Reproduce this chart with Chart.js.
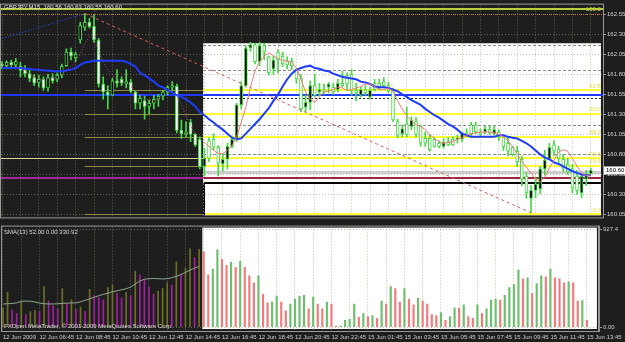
<!DOCTYPE html>
<html>
<head>
<meta charset="utf-8">
<script src="https://cdn.jsdelivr.net/npm/chart.js@4.4.1/dist/chart.umd.min.js"></script>
<style>
  html, body { margin: 0; padding: 0; background: #1e1e1e; }
  #wrap { position: relative; width: 625px; height: 342px; overflow: hidden; }
  #priceChart { position: absolute; left: 0; top: 0; }
  #volumeChart { position: absolute; left: 0; top: 222px; }
</style>
</head>
<body>
<div id="wrap">
  <canvas id="priceChart" width="625" height="222"></canvas>
  <canvas id="volumeChart" width="625" height="120"></canvas>
</div>
<script>
// GBPJPY M15, one bar every 15 minutes, bar 0 = 12 Jun 04:45
const opens = [
  161.93, 161.91, 161.95, 161.92, 161.90, 161.86, 161.81, 161.76, 161.70, 161.74,
  161.63, 161.76, 161.74, 161.79, 161.91, 162.08, 162.01, 162.23, 162.39, 162.45,
  162.40, 162.23, 161.68, 161.58, 161.54, 161.72, 161.74, 161.68, 161.70, 161.58,
  161.44, 161.47, 161.40, 161.44, 161.49, 161.53, 161.58, 161.64, 161.65, 161.10,
  161.06, 161.20, 161.05, 160.99, 160.65, 160.97, 160.99, 160.89, 160.68, 160.74,
  160.90, 160.99, 161.42, 161.66, 162.13, 162.17, 161.96, 162.16, 162.02, 161.87,
  162.08, 162.03, 161.97, 161.96, 161.85, 161.75, 161.39, 161.45, 161.66, 161.58,
  161.61, 161.64, 161.64, 161.61, 161.69, 161.79, 161.80, 161.60, 161.54, 161.61,
  161.52, 161.69, 161.69, 161.71, 161.66, 161.60, 161.21, 161.06, 161.18, 161.15,
  161.21, 161.15, 161.00, 161.00, 160.99, 160.94, 160.90, 160.96, 160.99, 160.99,
  160.99, 161.07, 161.17, 161.17, 161.08, 161.08, 161.11, 161.06, 161.08, 161.02,
  160.94, 160.89, 160.84, 160.74, 160.53, 160.25, 160.35, 160.37, 160.62, 160.75,
  160.92, 160.86, 160.74, 160.68, 160.62, 160.53, 160.32, 160.49, 160.56
];
const highs = [
  161.96, 161.97, 161.98, 162.00, 161.95, 161.91, 161.85, 161.80, 161.79, 161.77,
  161.80, 161.81, 161.82, 161.93, 162.12, 162.13, 162.08, 162.45, 162.56, 162.50,
  162.54, 162.25, 161.77, 161.66, 161.75, 161.86, 161.77, 161.86, 161.74, 161.59,
  161.54, 161.53, 161.48, 161.54, 161.55, 161.60, 161.66, 161.71, 161.68, 161.23,
  161.21, 161.24, 161.06, 161.02, 160.88, 161.01, 161.06, 160.91, 160.81, 160.94,
  161.02, 161.44, 161.71, 162.16, 162.20, 162.19, 162.20, 162.19, 162.03, 162.03,
  162.11, 162.08, 162.02, 162.00, 161.87, 161.80, 161.54, 161.72, 161.80, 161.69,
  161.68, 161.70, 161.69, 161.74, 161.84, 161.82, 161.86, 161.69, 161.64, 161.66,
  161.64, 161.74, 161.74, 161.76, 161.70, 161.63, 161.24, 161.17, 161.39, 161.27,
  161.26, 161.17, 161.08, 161.05, 161.01, 160.97, 161.00, 161.01, 161.02, 161.04,
  161.08, 161.12, 161.20, 161.20, 161.12, 161.15, 161.15, 161.15, 161.11, 161.04,
  161.02, 160.90, 160.90, 160.78, 160.57, 160.41, 160.51, 160.65, 160.85, 160.94,
  160.97, 160.90, 160.80, 160.75, 160.68, 160.60, 160.55, 160.60, 160.63
];
const lows = [
  161.87, 161.87, 161.87, 161.87, 161.77, 161.77, 161.71, 161.66, 161.64, 161.60,
  161.59, 161.69, 161.71, 161.76, 161.90, 161.98, 161.96, 162.19, 162.35, 162.38,
  162.20, 161.64, 161.49, 161.37, 161.53, 161.64, 161.66, 161.63, 161.57, 161.37,
  161.37, 161.24, 161.31, 161.37, 161.40, 161.48, 161.54, 161.60, 161.07, 161.00,
  161.02, 160.96, 160.90, 160.62, 160.53, 160.71, 160.86, 160.53, 160.59, 160.62,
  160.88, 160.96, 161.37, 161.64, 162.09, 161.93, 161.91, 161.98, 161.79, 161.80,
  161.82, 161.90, 161.87, 161.86, 161.69, 161.33, 161.33, 161.36, 161.52, 161.53,
  161.55, 161.57, 161.55, 161.58, 161.64, 161.60, 161.54, 161.47, 161.52, 161.54,
  161.49, 161.59, 161.61, 161.64, 161.57, 161.21, 161.01, 161.02, 161.02, 161.11,
  161.02, 160.90, 160.90, 160.84, 160.89, 160.88, 160.88, 160.91, 160.91, 160.94,
  160.96, 161.02, 161.02, 161.06, 161.02, 161.06, 161.05, 161.04, 160.97, 160.85,
  160.78, 160.78, 160.65, 160.41, 160.25, 160.07, 160.26, 160.31, 160.54, 160.73,
  160.78, 160.70, 160.58, 160.55, 160.32, 160.30, 160.26, 160.41, 160.55
];
const closes = [
  161.91, 161.95, 161.92, 161.96, 161.85, 161.81, 161.75, 161.69, 161.74, 161.63,
  161.76, 161.72, 161.79, 161.90, 162.08, 162.03, 162.05, 162.41, 162.45, 162.40,
  162.23, 161.68, 161.58, 161.54, 161.72, 161.69, 161.69, 161.71, 161.59, 161.44,
  161.50, 161.40, 161.44, 161.49, 161.53, 161.58, 161.64, 161.66, 161.10, 161.06,
  161.08, 161.05, 160.92, 160.65, 160.75, 160.75, 160.89, 160.69, 160.74, 160.90,
  160.99, 161.42, 161.66, 162.13, 162.17, 161.96, 162.16, 162.08, 161.82, 161.98,
  161.98, 161.93, 161.92, 161.91, 161.74, 161.37, 161.45, 161.66, 161.54, 161.61,
  161.58, 161.68, 161.58, 161.69, 161.66, 161.68, 161.60, 161.57, 161.61, 161.57,
  161.60, 161.61, 161.65, 161.66, 161.59, 161.23, 161.04, 161.12, 161.05, 161.23,
  161.05, 160.94, 160.94, 160.86, 160.90, 160.90, 160.95, 160.92, 160.92, 161.00,
  161.06, 161.04, 161.06, 161.08, 161.05, 161.12, 161.07, 161.11, 161.02, 160.90,
  160.84, 160.80, 160.71, 160.49, 160.32, 160.35, 160.43, 160.62, 160.73, 160.89,
  160.84, 160.75, 160.63, 160.58, 160.38, 160.35, 160.53, 160.55, 160.60
];
const maSlow = [
  161.88, 161.88, 161.88, 161.88, 161.88, 161.87, 161.87, 161.86, 161.86, 161.85,
  161.85, 161.84, 161.84, 161.84, 161.85, 161.86, 161.88, 161.92, 161.95, 161.96,
  161.97, 161.97, 161.97, 161.97, 161.97, 161.97, 161.97, 161.96, 161.93, 161.90,
  161.82, 161.79, 161.75, 161.71, 161.66, 161.64, 161.60, 161.58, 161.54, 161.52,
  161.49, 161.45, 161.40, 161.33, 161.29, 161.24, 161.20, 161.15, 161.11, 161.06,
  161.01, 160.99, 161.00, 161.06, 161.12, 161.18, 161.24, 161.31, 161.38, 161.47,
  161.55, 161.65, 161.74, 161.81, 161.86, 161.88, 161.90, 161.91, 161.88, 161.87,
  161.85, 161.84, 161.81, 161.79, 161.77, 161.76, 161.75, 161.74, 161.71, 161.70,
  161.68, 161.65, 161.64, 161.64, 161.63, 161.61, 161.59, 161.55, 161.52, 161.48,
  161.45, 161.42, 161.37, 161.33, 161.29, 161.26, 161.22, 161.18, 161.15, 161.11,
  161.06, 161.04, 161.02, 161.02, 161.02, 161.02, 161.02, 161.02, 161.04, 161.04,
  161.02, 161.01, 161.00, 160.97, 160.94, 160.90, 160.85, 160.80, 160.76, 160.74,
  160.70, 160.68, 160.65, 160.62, 160.59, 160.57, 160.55, 160.54, 160.54
];
const maFast = [
  161.93, 161.92, 161.91, 161.90, 161.88, 161.85, 161.81, 161.77, 161.75, 161.74,
  161.74, 161.75, 161.77, 161.80, 161.85, 161.90, 161.96, 162.05, 162.19, 162.27,
  162.29, 162.08, 161.95, 161.86, 161.79, 161.74, 161.71, 161.69, 161.65, 161.61,
  161.55, 161.49, 161.48, 161.47, 161.49, 161.53, 161.57, 161.59, 161.53, 161.43,
  161.28, 161.16, 161.06, 160.99, 160.95, 160.90, 160.85, 160.81, 160.81, 160.85,
  160.91, 161.02, 161.20, 161.39, 161.64, 161.84, 161.96, 162.03, 162.07, 162.03,
  162.00, 161.97, 161.97, 161.95, 161.88, 161.74, 161.58, 161.49, 161.45, 161.52,
  161.59, 161.59, 161.61, 161.64, 161.63, 161.60, 161.61, 161.63, 161.65, 161.68,
  161.68, 161.65, 161.61, 161.61, 161.63, 161.59, 161.47, 161.37, 161.28, 161.22,
  161.17, 161.15, 161.11, 161.05, 161.00, 160.96, 160.94, 160.95, 160.96, 160.99,
  161.01, 161.04, 161.06, 161.07, 161.08, 161.08, 161.08, 161.07, 161.05, 161.02,
  160.97, 160.90, 160.81, 160.71, 160.64, 160.57, 160.49, 160.46, 160.52, 160.63,
  160.73, 160.83, 160.86, 160.84, 160.75, 160.65, 160.57, 160.53, 160.55
];
const volumes = [
  180, 330, 165, 128, 248, 119, 147, 160, 150, 386,
  248, 202, 170, 367, 230, 260, 170, 190, 150, 358,
  300, 280, 260, 376, 400, 320, 275, 330, 300, 532,
  496, 450, 380, 312, 340, 367, 420, 400, 620, 496,
  560, 744, 661, 740, 716, 496, 551, 735, 643, 588,
  615, 569, 624, 569, 487, 422, 487, 312, 230, 239,
  294, 239, 156, 220, 266, 294, 303, 174, 285, 220,
  174, 239, 220, 10, 12, 64, 73, 220, 92, 128,
  101, 110, 83, 248, 220, 386, 367, 239, 367, 266,
  211, 275, 248, 220, 119, 110, 138, 64, 101, 184,
  180, 211, 101, 83, 211, 128, 174, 257, 266, 257,
  303, 376, 404, 542, 459, 468, 321, 413, 487, 477,
  551, 468, 459, 422, 431, 422, 248, 252, 64
];
const volumeSma = [
  220, 222, 225, 230, 245, 248, 246, 240, 228, 222,
  220, 220, 222, 225, 228, 230, 230, 240, 255, 268,
  285, 298, 312, 322, 336, 345, 355, 365, 380, 410,
  438, 455, 460, 462, 460, 458, 460, 470, 482, 500,
  520, 542, 560, 578
];
const timeLabels = [
  '12 Jun 2009', '12 Jun 06:45', '12 Jun 08:45', '12 Jun 10:45', '12 Jun 12:45',
  '12 Jun 14:45', '12 Jun 16:45', '12 Jun 18:45', '12 Jun 20:45', '12 Jun 22:45',
  '15 Jun 01:45', '15 Jun 03:45', '15 Jun 05:45', '15 Jun 07:45', '15 Jun 09:45',
  '15 Jun 11:45', '15 Jun 13:45'
];
const priceTicks = [162.55, 162.30, 162.05, 161.80, 161.55, 161.30, 161.05, 160.80, 160.55, 160.30, 160.05];
const volumeTicks = [0, 927.4];
const fibLevels = [162.56, 161.60, 161.31, 161.02, 160.75, 160.66, 160.05];
const fibNames = ['100.0', '61.8', '50.0', '38.2', '23.6', '23.6', '0.0'];
const trendBars = [18, 115];
const trendPrices = [162.56, 160.07];
const blueTrendBars = [0, 18];
const blueTrendPrices = [162.25, 162.56];
const dashedLevels = [162.17, 161.86, 161.17, 160.80];

const lastBar = closes.length - 1;
const boxFrom = 43.7, boxTo = 130.2, boxTopPrice = 162.19, boxTopVolume = 945;
const FONT = '6px "Liberation Sans"';
const WICK = '#46d846';

Chart.defaults.font.family = 'Liberation Sans';
Chart.defaults.font.size = 6;
Chart.defaults.color = '#cfcfcf';

const gridStyle = { color: 'rgba(150,150,120,0.6)', lineWidth: 1 };
const gridBorder = { display: false, dash: [1, 2] };
const hourTicks = s => { s.ticks = []; for (let v = 0; v <= lastBar; v += 4) s.ticks.push({ value: v }); };

function hline(ctx, xs, ys, price, from, to, color, width, dash) {
  const yy = Math.round(ys.getPixelForValue(price)) + (width % 2 ? 0.5 : 0);
  ctx.beginPath();
  ctx.strokeStyle = color;
  ctx.lineWidth = width;
  ctx.setLineDash(dash || []);
  ctx.moveTo(xs.getPixelForValue(from), yy);
  ctx.lineTo(xs.getPixelForValue(to), yy);
  ctx.stroke();
}

// dark chart with a white rectangle object behind the right part
const backdrop = {
  id: 'backdrop',
  beforeDraw(chart, args, opts) {
    const { ctx, chartArea: a, scales: { x, y } } = chart;
    ctx.save();
    ctx.fillStyle = '#1e1e1e';
    ctx.fillRect(0, 0, chart.width, chart.height);
    const l = x.getPixelForValue(boxFrom), r = x.getPixelForValue(boxTo);
    const t = y.getPixelForValue(opts.top);
    ctx.fillStyle = '#ffffff';
    ctx.fillRect(l, t, r - l, a.bottom - 2 - t);
    ctx.restore();
  },
  afterDraw(chart) {
    const { ctx, chartArea: a } = chart;
    ctx.save();
    ctx.strokeStyle = '#9a9a9a';
    ctx.lineWidth = 1;
    ctx.strokeRect(a.left - 0.5, a.top - 0.5, a.right - a.left + 1, a.bottom - a.top + 1);
    ctx.restore();
  }
};

const priceObjects = {
  id: 'priceObjects',
  beforeDatasetsDraw(chart) {
    const { ctx, scales: { x, y } } = chart;
    const x0 = x.min, x1 = x.max;
    ctx.save();
    hline(ctx, x, y, 162.62, x0, x1, '#b6cf3a', 2);
    fibLevels.forEach((p, k) => {
      if (k === 0) { hline(ctx, x, y, p, x0, x1, '#c0702a', 1, [1, 1]); return; }
      const start = p === 160.75 ? x0 : trendBars[0];
      hline(ctx, x, y, p, start, boxFrom, p === 160.75 ? '#d8d890' : '#8e8e42', 1);
      hline(ctx, x, y, p, boxFrom, boxTo, '#ffff33', 2);
    });
    dashedLevels.forEach(p => hline(ctx, x, y, p, boxFrom, boxTo, '#8c8c8c', 1, [3, 2]));
    hline(ctx, x, y, 161.54, x0, x1, '#2038ff', 2);
    hline(ctx, x, y, 161.51, boxFrom, boxTo, '#202020', 1, [2, 2]);
    hline(ctx, x, y, 160.58, boxFrom, boxTo, '#cdcdcd', 3);
    hline(ctx, x, y, 160.51, x0, boxFrom, '#a0289a', 2);
    hline(ctx, x, y, 160.51, boxFrom, boxTo, '#9a2840', 2);
    hline(ctx, x, y, 160.44, 44, boxTo, '#000000', 2);
    // left edge of the black frame and the dotted separator
    const xb = Math.round(x.getPixelForValue(44));
    ctx.setLineDash([]);
    ctx.strokeStyle = '#000000';
    ctx.lineWidth = 2;
    ctx.beginPath();
    ctx.moveTo(xb, y.getPixelForValue(160.44));
    ctx.lineTo(xb, chart.chartArea.bottom - 2);
    ctx.stroke();
    const xs = Math.round(x.getPixelForValue(boxFrom)) + 0.5;
    ctx.strokeStyle = '#a8a8a8';
    ctx.lineWidth = 1;
    ctx.setLineDash([1, 2]);
    ctx.beginPath();
    ctx.moveTo(xs, y.getPixelForValue(boxTopPrice));
    ctx.lineTo(xs, chart.chartArea.bottom - 2);
    ctx.stroke();
    ctx.restore();
  },
  afterDraw(chart) {
    const { ctx, scales: { x, y } } = chart;
    ctx.save();
    ctx.font = FONT;
    ctx.textBaseline = 'bottom';
    ctx.textAlign = 'right';
    fibLevels.forEach((p, k) => {
      ctx.fillStyle = k === 0 ? '#c8cc50' : '#e8e040';
      ctx.fillText(fibNames[k], x.getPixelForValue(boxTo), y.getPixelForValue(p) - 1);
    });
    ctx.textAlign = 'left';
    ctx.textBaseline = 'middle';
    ctx.fillStyle = '#e6e6e6';
    ctx.fillText('GBPJPY,M15  ' + [opens[lastBar], highs[lastBar], lows[lastBar], closes[lastBar]].map(v => v.toFixed(2)).join(' '), 4, 7);
    // current price tag on the axis
    const yc = y.getPixelForValue(closes[lastBar]);
    ctx.fillStyle = '#ffffff';
    ctx.fillRect(chart.chartArea.right + 1, yc - 4, 21, 8);
    ctx.fillStyle = '#000000';
    ctx.fillText(closes[lastBar].toFixed(2), chart.chartArea.right + 3, yc);
    ctx.restore();
  }
};

const volumeText = {
  id: 'volumeText',
  afterDraw(chart) {
    const { ctx, chartArea: a } = chart;
    ctx.save();
    ctx.font = FONT;
    ctx.fillStyle = '#dcdcdc';
    ctx.textBaseline = 'middle';
    ctx.fillText('SMA(13) 52.00 0.00 330.92', 4, a.top + 6);
    ctx.fillText('FXOpen MetaTrader, \u00a9 2001-2009 MetaQuotes Software Corp.', 4, a.bottom - 5);
    ctx.restore();
  }
};

const bars = closes.map((c, i) => i);

new Chart(document.getElementById('priceChart'), {
  type: 'bar',
  data: {
    datasets: [
      {
        type: 'line', label: 'MA fast', order: 0,
        data: maFast.map((v, i) => ({ x: i, y: v })),
        borderColor: '#f07a7a', borderWidth: 1, pointRadius: 0,
        segment: {
          borderColor: c => c.p0DataIndex < 44 ? '#b0409a' : '#f07a7a',
          borderDash: c => c.p0DataIndex < 44 ? [1, 2] : undefined
        }
      },
      {
        type: 'line', label: 'MA slow', order: 0,
        data: maSlow.map((v, i) => ({ x: i, y: v })),
        borderColor: '#1e3cff', borderWidth: 2, pointRadius: 0
      },
      {
        type: 'line', label: 'trend', order: 0,
        data: trendBars.map((b, k) => ({ x: b, y: trendPrices[k] })),
        borderColor: '#d86060', borderWidth: 1, borderDash: [3, 3], pointRadius: 0
      },
      {
        type: 'line', label: 'blue trend', order: 0,
        data: blueTrendBars.map((b, k) => ({ x: b, y: blueTrendPrices[k] })),
        borderColor: '#2848ff', borderWidth: 1, borderDash: [1, 2], pointRadius: 0
      },
      {
        label: 'body', order: 1, grouped: false,
        data: bars.map(i => ({ x: i, y: [opens[i], closes[i]] })),
        backgroundColor: c => closes[c.dataIndex] >= opens[c.dataIndex] ? '#000000' : '#ffffff',
        borderColor: WICK, borderWidth: 1, borderSkipped: false, barThickness: 3
      },
      {
        label: 'wick', order: 2, grouped: false,
        data: bars.map(i => ({ x: i, y: [lows[i], highs[i]] })),
        backgroundColor: WICK, barThickness: 1
      }
    ]
  },
  options: {
    responsive: false,
    animation: false,
    events: [],
    layout: { padding: { left: 1, top: 4, bottom: 2, right: 0 } },
    plugins: { legend: { display: false }, tooltip: { enabled: false }, backdrop: { top: boxTopPrice } },
    scales: {
      x: {
        type: 'linear', min: -0.22, max: 130.65, offset: false,
        grid: { ...gridStyle, offset: false, drawTicks: false },
        border: gridBorder,
        ticks: { display: false },
        afterBuildTicks: hourTicks,
        afterFit: s => { s.height = 0; }
      },
      y: {
        position: 'right', min: 160.013, max: 162.673,
        grid: { ...gridStyle, tickLength: 3, tickColor: '#9a9a9a', tickBorderDash: [] },
        border: { display: true, color: '#9a9a9a', dash: [1, 2] },
        ticks: { padding: 1, color: '#cfcfcf', callback: v => v.toFixed(2) },
        afterBuildTicks: s => { s.ticks = priceTicks.map(v => ({ value: v })); },
        afterFit: s => { s.width = 22; }
      }
    }
  },
  plugins: [backdrop, priceObjects]
});

new Chart(document.getElementById('volumeChart'), {
  type: 'bar',
  data: {
    datasets: [
      {
        type: 'line', label: 'SMA(13)', order: 0,
        data: volumeSma.map((v, i) => ({ x: i, y: v })),
        borderColor: '#8fa88f', borderWidth: 1, pointRadius: 0
      },
      {
        label: 'volume', order: 1, grouped: false,
        data: bars.filter(i => i < boxFrom).map(i => ({ x: i, y: volumes[i] })),
        backgroundColor: c => {
          const i = c.raw ? c.raw.x : 0;
          return i > 0 && volumes[i] < volumes[i - 1] ? '#a020a0' : '#6e6e28';
        },
        barThickness: 1
      },
      {
        label: 'volume right', order: 1, grouped: false,
        data: bars.filter(i => i > boxFrom).map(i => ({ x: i, y: volumes[i] })),
        backgroundColor: c => {
          const i = c.raw ? c.raw.x : 0;
          return volumes[i] < volumes[i - 1] ? '#f27a7a' : '#6cbf6c';
        },
        barThickness: 1.5
      }
    ]
  },
  options: {
    responsive: false,
    animation: false,
    events: [],
    layout: { padding: { left: 1, top: 1, bottom: 0, right: 0 } },
    plugins: { legend: { display: false }, tooltip: { enabled: false }, backdrop: { top: boxTopVolume } },
    scales: {
      x: {
        type: 'linear', min: -0.22, max: 130.65, offset: false,
        grid: { ...gridStyle, offset: false, drawTicks: false },
        border: gridBorder,
        ticks: {
          align: 'start', padding: 3, autoSkip: false, maxRotation: 0, color: '#cfcfcf',
          callback: v => (v % 8 === 0 ? timeLabels[v / 8] : '')
        },
        afterBuildTicks: hourTicks,
        afterFit: s => { s.height = 11; }
      },
      y: {
        position: 'right', min: -36.7, max: 954.9,
        grid: { ...gridStyle, tickLength: 3, tickColor: '#9a9a9a', tickBorderDash: [] },
        border: { display: true, color: '#9a9a9a', dash: [1, 2] },
        ticks: { padding: 1, color: '#cfcfcf', callback: v => (v === 0 ? '0.00' : v.toFixed(1)) },
        afterBuildTicks: s => { s.ticks = volumeTicks.map(v => ({ value: v })); },
        afterFit: s => { s.width = 22; }
      }
    }
  },
  plugins: [backdrop, volumeText]
});
</script>
</body>
</html>
